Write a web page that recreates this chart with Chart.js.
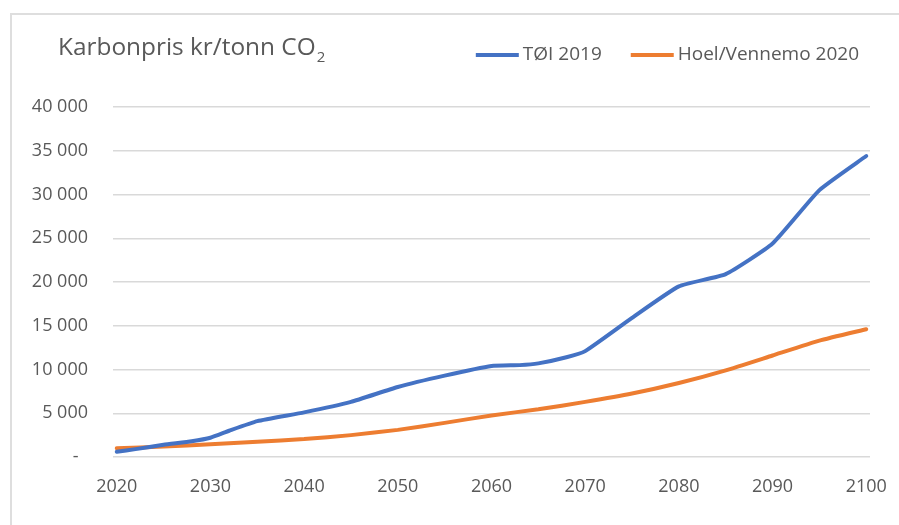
<!DOCTYPE html>
<html>
<head>
<meta charset="utf-8">
<script src="https://cdn.jsdelivr.net/npm/chart.js@4.4.1/dist/chart.umd.min.js"></script>
<style>
  html, body { margin: 0; padding: 0; background: #ffffff; }
  #wrap { position: relative; width: 899px; height: 525px; overflow: hidden; }
  #frame { position: absolute; left: 10px; top: 13px; width: 900px; height: 520px;
           border-top: 2px solid #dedede; border-left: 2px solid #dedede; box-sizing: border-box; }
  canvas { position: absolute; left: 0; top: 0; }
</style>
</head>
<body>
<div id="wrap">
  <div id="frame"></div>
  <canvas id="c" width="899" height="525"></canvas>
</div>
<script>
const chartTitle = 'Karbonpris kr/tonn CO';
const chartTitleSub = '2';
const seriesNames = ['TØI 2019', 'Hoel/Vennemo 2020'];
const seriesColors = ['#4472C4', '#ED7D31'];

const yearsTOI = [2020, 2022, 2025, 2028, 2030, 2032, 2035, 2040, 2045, 2050, 2055, 2060, 2063, 2065, 2068, 2070, 2075, 2080, 2085, 2090, 2095, 2100];
const valuesTOI = [600, 900, 1400, 1800, 2200, 3000, 4100, 5100, 6300, 8000, 9300, 10400, 10500, 10700, 11400, 12100, 15900, 19500, 20900, 24400, 30500, 34400];

const yearsHV = [2020, 2025, 2030, 2035, 2040, 2045, 2050, 2055, 2060, 2065, 2070, 2075, 2080, 2085, 2090, 2095, 2100];
const valuesHV = [1000, 1200, 1450, 1750, 2050, 2500, 3100, 3900, 4750, 5450, 6300, 7250, 8450, 9900, 11600, 13300, 14600];

const xTicks = [2020, 2030, 2040, 2050, 2060, 2070, 2080, 2090, 2100];
const yTicks = [0, 5000, 10000, 15000, 20000, 25000, 30000, 35000, 40000];

const FONT = "'Open Sans', 'DejaVu Sans', sans-serif";
const TEXT_COLOR = '#595959';

function fmt(v) {
  if (v === 0) return '-  ';
  return String(v).replace(/\B(?=(\d{3})+(?!\d))/g, ' ');
}

const toPts = (xs, ys) => xs.map((x, i) => ({ x: x, y: ys[i] }));

const headerPlugin = {
  id: 'header',
  afterDraw(chart) {
    const ctx = chart.ctx;
    ctx.save();
    ctx.fillStyle = TEXT_COLOR;
    ctx.textBaseline = 'alphabetic';
    ctx.textAlign = 'left';
    // Title
    ctx.font = '24.4px ' + FONT;
    const tx = 58, ty = 55;
    ctx.fillText(chartTitle, tx, ty);
    const w = ctx.measureText(chartTitle).width;
    ctx.font = '15px ' + FONT;
    ctx.fillText(chartTitleSub, tx + w + 1, ty + 7);
    // Legend (right aligned)
    ctx.font = '19px ' + FONT;
    ctx.textBaseline = 'middle';
    const ly = 55;
    const lineLen = 43, gapText = 4, gapItem = 29;
    let right = 859;
    const items = chart.data.datasets.map(d => ({ text: d.label, color: d.borderColor }));
    for (let i = items.length - 1; i >= 0; i--) {
      const it = items[i];
      const tw = ctx.measureText(it.text).width;
      const textX = right - tw;
      const lineX = textX - gapText - lineLen;
      ctx.strokeStyle = it.color;
      ctx.lineWidth = 4;
      ctx.lineCap = 'butt';
      ctx.beginPath();
      ctx.moveTo(lineX, ly);
      ctx.lineTo(lineX + lineLen, ly);
      ctx.stroke();
      ctx.fillStyle = TEXT_COLOR;
      ctx.fillText(it.text, textX, ly);
      right = lineX - gapItem;
    }
    ctx.restore();
  }
};

new Chart(document.getElementById('c'), {
  type: 'line',
  data: {
    datasets: [
      { label: seriesNames[0], data: toPts(yearsTOI, valuesTOI), borderColor: seriesColors[0],
        backgroundColor: seriesColors[0], borderWidth: 4, pointRadius: 0, tension: 0.15,
        borderCapStyle: 'round', borderJoinStyle: 'round' },
      { label: seriesNames[1], data: toPts(yearsHV, valuesHV), borderColor: seriesColors[1],
        backgroundColor: seriesColors[1], borderWidth: 4, pointRadius: 0, tension: 0.15,
        borderCapStyle: 'round', borderJoinStyle: 'round' }
    ]
  },
  options: {
    responsive: false,
    animation: false,
    events: [],
    layout: { padding: { top: 107, right: 29, left: 0, bottom: 0 } },
    plugins: { legend: { display: false }, title: { display: false }, tooltip: { enabled: false } },
    scales: {
      x: {
        type: 'linear',
        min: 2019.6,
        max: 2100.4,
        afterBuildTicks(scale) { scale.ticks = xTicks.map(v => ({ value: v })); },
        afterFit(scale) { scale.height = 68; scale.paddingLeft = 0; scale.paddingRight = 0; },
        grid: { display: false, drawTicks: false },
        border: { display: false },
        ticks: { color: TEXT_COLOR, font: { family: FONT, size: 18 }, padding: 19, maxRotation: 0,
                 autoSkip: false, callback: v => String(v) }
      },
      y: {
        type: 'linear',
        min: 0,
        max: 40000,
        afterBuildTicks(scale) { scale.ticks = yTicks.map(v => ({ value: v })); },
        afterFit(scale) { scale.width = 113; scale.paddingTop = 0; scale.paddingBottom = 0; },
        grid: { color: '#d9d9d9', lineWidth: 1.5, drawTicks: false },
        border: { display: false },
        ticks: { color: TEXT_COLOR, font: { family: FONT, size: 18 }, padding: 25,
                 callback: v => fmt(v) }
      }
    }
  },
  plugins: [headerPlugin]
});
</script>
</body>
</html>
